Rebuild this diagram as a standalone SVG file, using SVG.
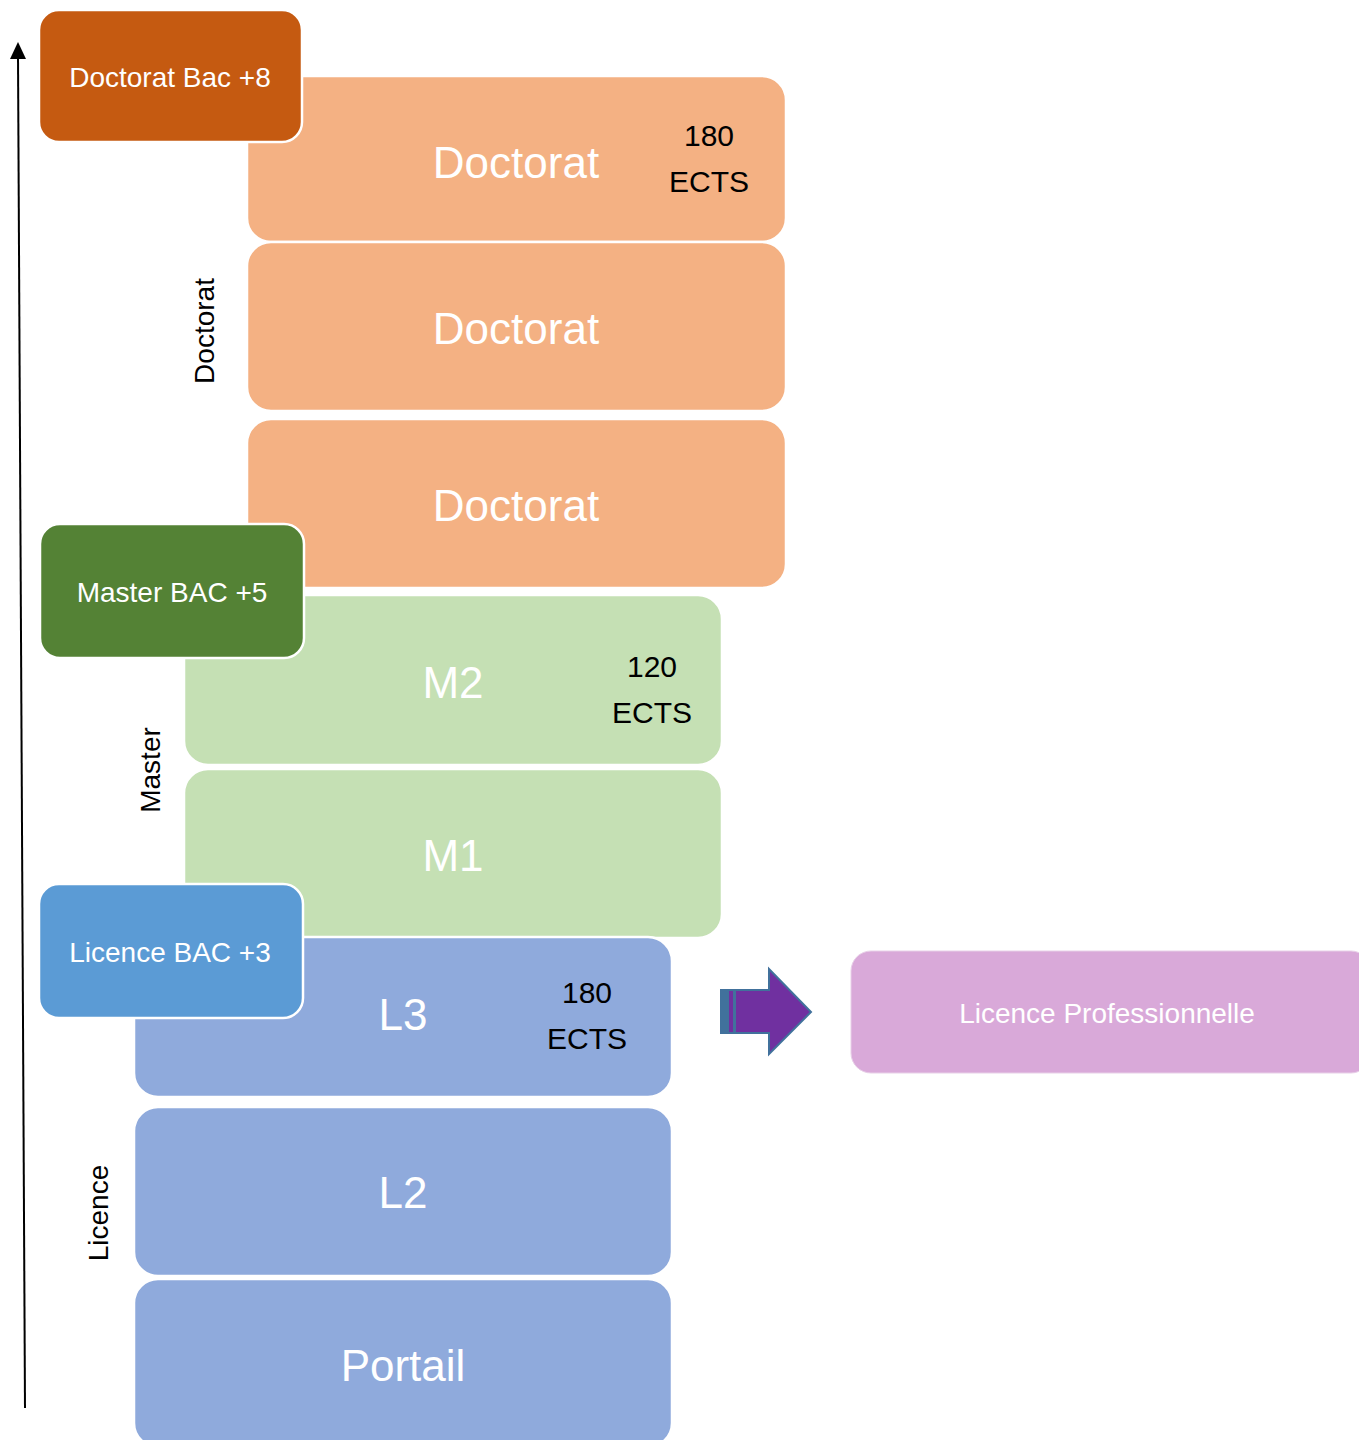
<svg xmlns="http://www.w3.org/2000/svg" width="1359" height="1440" viewBox="0 0 1359 1440">
<style>
.box{stroke:#fff;stroke-width:2.5}
.doc{fill:#F4B183}
.mas{fill:#C5E0B4}
.lic{fill:#8FAADC}
.big{font-family:"Liberation Sans",Arial,sans-serif;font-size:44px;fill:#fff;text-anchor:middle}
.ects{font-family:"Liberation Sans",Arial,sans-serif;font-size:30px;fill:#000;text-anchor:middle}
.badge{font-family:"Liberation Sans",Arial,sans-serif;font-size:28px;fill:#fff;text-anchor:middle}
.side{font-family:"Liberation Sans",Arial,sans-serif;font-size:28px;fill:#000;text-anchor:middle}
</style>
<rect width="1359" height="1440" fill="#fff"/>
<g id="connectors">
<line x1="25" y1="1408" x2="18" y2="56" stroke="#000" stroke-width="2"/>
<path d="M18,42 L10,59 L26,59 Z" fill="#000"/>
<g id="arrow-pro">
<path d="M721,990 L769,990 L769,969 L811,1012 L769,1054 L769,1033 L721,1033 Z" fill="#7030A0" stroke="#41719C" stroke-width="2"/>
<rect x="721" y="990" width="8" height="43" fill="#41719C"/>
<rect x="733" y="990" width="3" height="43" fill="#41719C"/>
</g>
</g>
<g id="doctorat1"><rect class="box doc" x="247" y="76" width="539" height="166" rx="24"/>
<text class="big" x="516" y="178">Doctorat</text>
<text class="ects" x="709" y="146">180</text><text class="ects" x="709" y="192">ECTS</text></g>
<g id="doctorat2"><rect class="box doc" x="247" y="242" width="539" height="169" rx="24"/>
<text class="big" x="516" y="344">Doctorat</text></g>
<g id="doctorat3"><rect class="box doc" x="247" y="419" width="539" height="169" rx="24"/>
<text class="big" x="516" y="521">Doctorat</text></g>
<g id="m2"><rect class="box mas" x="184" y="595" width="538" height="170" rx="24"/>
<text class="big" x="453" y="698">M2</text>
<text class="ects" x="652" y="677">120</text><text class="ects" x="652" y="723">ECTS</text></g>
<g id="m1"><rect class="box mas" x="184" y="769" width="538" height="169" rx="24"/>
<text class="big" x="453" y="871">M1</text></g>
<g id="l3"><rect class="box lic" x="134" y="937" width="538" height="160" rx="24"/>
<text class="big" x="403" y="1030">L3</text>
<text class="ects" x="587" y="1003">180</text><text class="ects" x="587" y="1049">ECTS</text></g>
<g id="l2"><rect class="box lic" x="134" y="1107" width="538" height="169" rx="24"/>
<text class="big" x="403" y="1208">L2</text></g>
<g id="portail"><rect class="box lic" x="134" y="1279" width="538" height="168" rx="24"/>
<text class="big" x="403" y="1381">Portail</text></g>
<g id="badge-doctorat"><rect class="box" x="39" y="10" width="263" height="132" rx="20" fill="#C55A11"/>
<text class="badge" x="170" y="87">Doctorat Bac +8</text></g>
<g id="badge-master"><rect class="box" x="40" y="524" width="264" height="134" rx="20" fill="#548235"/>
<text class="badge" x="172" y="602">Master BAC +5</text></g>
<g id="badge-licence"><rect class="box" x="39" y="884" width="264" height="134" rx="20" fill="#5B9BD5"/>
<text class="badge" x="170" y="962">Licence BAC +3</text></g>
<g id="label-doctorat"><text class="side" transform="translate(214,331) rotate(-90)">Doctorat</text></g>
<g id="label-master"><text class="side" transform="translate(160,770) rotate(-90)">Master</text></g>
<g id="label-licence"><text class="side" transform="translate(108,1213) rotate(-90)">Licence</text></g>
<g id="licence-pro"><rect x="851" y="951" width="520" height="122" rx="20" fill="#D9A9D9" stroke="#E8D0E8" stroke-width="1"/>
<text class="badge" x="1107" y="1023">Licence Professionnelle</text></g>
</svg>
